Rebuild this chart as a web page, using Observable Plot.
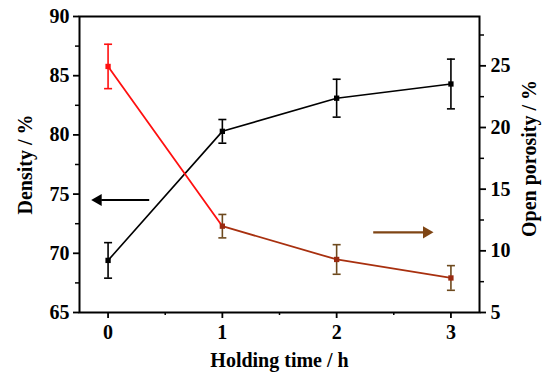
<!DOCTYPE html>
<html>
<head>
<meta charset="utf-8">
<script src="https://cdn.jsdelivr.net/npm/d3@7"></script>
<script src="https://cdn.jsdelivr.net/npm/@observablehq/plot@0.6"></script>
<style>
  html, body { margin: 0; padding: 0; background: #fff; }
  #chart { width: 550px; height: 378px; }
  #chart svg text { font-family: 'Liberation Serif','Times New Roman',serif !important; font-weight: bold; font-variant-numeric: normal !important; }
</style>
</head>
<body>
<div id="chart"></div>
<script>
// ---- data ----
const hours = [0, 1, 2, 3];
const density = [69.4, 80.3, 83.1, 84.3];
const densityErr = [1.5, 1.0, 1.6, 2.1];
const porosity = [24.95, 12.0, 9.3, 7.8];
const porosityErr = [1.8, 0.95, 1.2, 1.0];

const xTicks = [0, 1, 2, 3];
const xMinor = [0.5, 1.5, 2.5];
const densityTicks = [65, 70, 75, 80, 85, 90];
const densityMinor = [67.5, 72.5, 77.5, 82.5, 87.5];
const porosityTicks = [5, 10, 15, 20, 25];
const porosityMinor = [7.5, 12.5, 17.5, 22.5, 27.5];

// annotation arrows
const arrowLeft = {x1: 0.36, x2: -0.06, v: 74.5};
const arrowRight = {x1: 2.32, x2: 2.76, v: 11.5};

// ---- dual-axis mapping (porosity onto density scale) ----
const dDomain = [65, 90];
const pDomain = [5, 29];
const toD = p => dDomain[0] + (p - pDomain[0]) * (dDomain[1] - dDomain[0]) / (pDomain[1] - pDomain[0]);
const fromD = d => pDomain[0] + (d - dDomain[0]) * (pDomain[1] - pDomain[0]) / (dDomain[1] - dDomain[0]);

const dens = hours.map((h, i) => ({x: h, y: density[i], lo: density[i] - densityErr[i], hi: density[i] + densityErr[i]}));
const por = hours.map((h, i) => ({x: h, y: toD(porosity[i]), lo: toD(porosity[i] - porosityErr[i]), hi: toD(porosity[i] + porosityErr[i])}));

const RED = "#ff1010";
const BROWN_LINE = "#a8300f";
const BROWN_ERR = "#6e4a1e";
const BROWN_MARK = "#9a2a10";
const BROWN_ARROW = "#7f4514";
const cap = 0.035;
const FONT = "'Liberation Serif','Times New Roman',serif";
const txt = {fontFamily: FONT, fontWeight: "bold"};

const chart = Plot.plot({
  width: 550,
  height: 378,
  marginLeft: 79,
  marginRight: 71,
  marginTop: 16,
  marginBottom: 66,
  x: {domain: [-0.25, 3.25]},
  y: {domain: dDomain},
  style: {fontFamily: FONT, fontWeight: "bold", fontSize: "19px", background: "white", color: "black"},
  marks: [
    // axes
    Plot.axisY({anchor: "left", ticks: densityTicks, tickFormat: d => String(d), tickSize: 6, tickPadding: 4, strokeWidth: 1.8, label: null, fontSize: 20, ...txt}),
    Plot.axisY({anchor: "left", ticks: densityMinor, tickSize: 4, tickFormat: () => "", strokeWidth: 1.5, label: null}),
    Plot.axisY({anchor: "right", ticks: porosityTicks.map(toD), tickFormat: d => String(Math.round(fromD(d))), tickSize: 6, tickPadding: 5, strokeWidth: 1.8, label: null, fontSize: 20, ...txt}),
    Plot.axisY({anchor: "right", ticks: porosityMinor.map(toD), tickSize: 4, tickFormat: () => "", strokeWidth: 1.5, label: null}),
    Plot.axisX({ticks: xTicks, tickFormat: d => String(d), tickSize: 6, tickPadding: 6, strokeWidth: 1.8, label: null, fontSize: 20, ...txt}),
    Plot.axisX({ticks: xMinor, tickSize: 3, tickFormat: () => "", strokeWidth: 1.5, label: null}),
    Plot.frame({stroke: "black", strokeWidth: 2}),
    // axis titles
    Plot.text(["Density / %"], {frameAnchor: "left", textAnchor: "middle", dx: -54, rotate: -90, fontSize: 20, ...txt, fill: "black"}),
    Plot.text(["Open porosity / %"], {frameAnchor: "right", textAnchor: "middle", dx: 50, dy: -6, rotate: -90, fontSize: 20, ...txt, fill: "black"}),
    Plot.text(["Holding time / h"], {frameAnchor: "bottom", textAnchor: "middle", dy: 54, fontSize: 20, ...txt, fill: "black"}),
    // density series
    Plot.line(dens, {x: "x", y: "y", stroke: "black", strokeWidth: 1.6}),
    Plot.ruleX(dens, {x: "x", y1: "lo", y2: "hi", stroke: "black", strokeWidth: 1.6}),
    Plot.link(dens, {x1: d => d.x - cap, x2: d => d.x + cap, y1: "lo", y2: "lo", stroke: "black", strokeWidth: 1.6}),
    Plot.link(dens, {x1: d => d.x - cap, x2: d => d.x + cap, y1: "hi", y2: "hi", stroke: "black", strokeWidth: 1.6}),
    Plot.dot(dens, {x: "x", y: "y", symbol: "square", r: 3, fill: "black"}),
    // porosity series
    Plot.line(por.slice(0, 2), {x: "x", y: "y", stroke: RED, strokeWidth: 1.8}),
    Plot.line(por.slice(1), {x: "x", y: "y", stroke: BROWN_LINE, strokeWidth: 1.8}),
    Plot.ruleX(por, {x: "x", y1: "lo", y2: "hi", stroke: (d, i) => i === 0 ? RED : BROWN_ERR, strokeWidth: 1.6}),
    Plot.link(por, {x1: d => d.x - cap, x2: d => d.x + cap, y1: "lo", y2: "lo", stroke: (d, i) => i === 0 ? RED : BROWN_ERR, strokeWidth: 1.6}),
    Plot.link(por, {x1: d => d.x - cap, x2: d => d.x + cap, y1: "hi", y2: "hi", stroke: (d, i) => i === 0 ? RED : BROWN_ERR, strokeWidth: 1.6}),
    Plot.dot(por, {x: "x", y: "y", symbol: "square", r: 3, fill: (d, i) => i === 0 ? RED : BROWN_MARK}),
    // arrows
    Plot.link([arrowLeft], {x1: "x1", x2: "x2", y1: "v", y2: "v", stroke: "black", strokeWidth: 2.2}),
    Plot.dot([arrowLeft], {x: "x2", y: "v", symbol: "triangle", r: 4.5, rotate: -90, fill: "black", dx: -3}),
    Plot.link([arrowRight], {x1: "x1", x2: "x2", y1: d => toD(d.v), y2: d => toD(d.v), stroke: BROWN_ARROW, strokeWidth: 2.2}),
    Plot.dot([arrowRight], {x: "x2", y: d => toD(d.v), symbol: "triangle", r: 4.5, rotate: 90, fill: BROWN_ARROW, dx: 3})
  ]
});
document.getElementById("chart").appendChild(chart);
</script>
</body>
</html>
